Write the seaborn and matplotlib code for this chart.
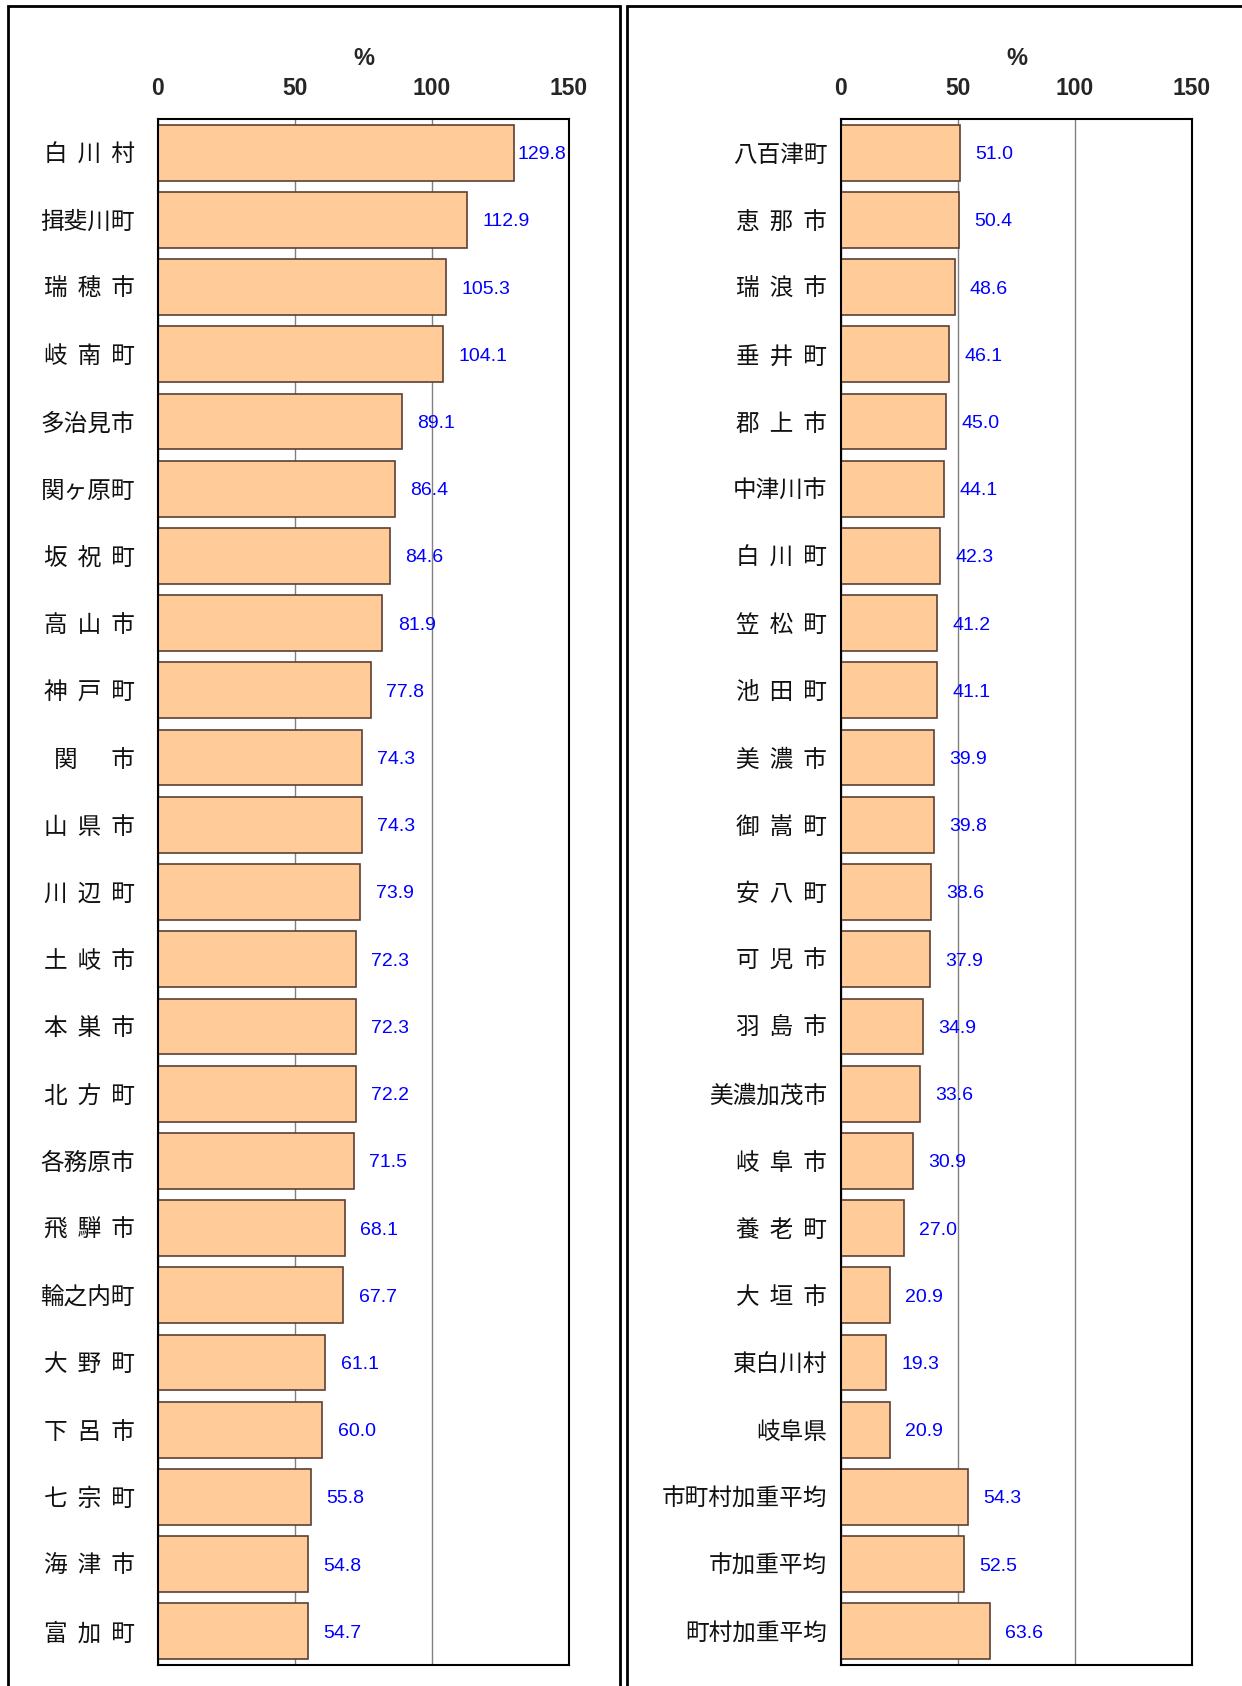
import matplotlib
matplotlib.use('Agg')
import matplotlib.pyplot as plt
import seaborn as sns
import pandas as pd
from matplotlib.patches import Rectangle

# left panel
left_names = ['白 川 村', '揖斐川町', '瑞 穂 市', '岐 南 町', '多治見市', '関ヶ原町',
              '坂 祝 町', '高 山 市', '神 戸 町', '関　 市', '山 県 市', '川 辺 町',
              '土 岐 市', '本 巣 市', '北 方 町', '各務原市', '飛 騨 市', '輪之内町',
              '大 野 町', '下 呂 市', '七 宗 町', '海 津 市', '富 加 町']
left_values = [129.8, 112.9, 105.3, 104.1, 89.1, 86.4, 84.6, 81.9, 77.8, 74.3, 74.3, 73.9,
               72.3, 72.3, 72.2, 71.5, 68.1, 67.7, 61.1, 60.0, 55.8, 54.8, 54.7]

# right panel
right_names = ['八百津町', '恵 那 市', '瑞 浪 市', '垂 井 町', '郡 上 市', '中津川市',
               '白 川 町', '笠 松 町', '池 田 町', '美 濃 市', '御 嵩 町', '安 八 町',
               '可 児 市', '羽 島 市', '美濃加茂市', '岐 阜 市', '養 老 町', '大 垣 市',
               '東白川村', '岐阜県', '市町村加重平均', '市加重平均', '町村加重平均']
right_values = [51.0, 50.4, 48.6, 46.1, 45.0, 44.1, 42.3, 41.2, 41.1, 39.9, 39.8, 38.6,
                37.9, 34.9, 33.6, 30.9, 27.0, 20.9, 19.3, 20.9, 54.3, 52.5, 63.6]

x_ticks = [0, 50, 100, 150]

BAR_COLOR = '#FFCC99'
EDGE_COLOR = '#5C4033'
LATIN = ['Liberation Sans', 'DejaVu Sans']

sns.set_style('white')
plt.rcParams['font.family'] = ['Noto Sans CJK JP', 'DejaVu Sans']

fig = plt.figure(figsize=(12.42, 16.86), dpi=100)

# panel frames
fig.patches.append(Rectangle((0.0064, -0.02), 0.4928, 1.0164, transform=fig.transFigure,
                             fill=False, edgecolor='black', linewidth=2))
fig.patches.append(Rectangle((0.5048, -0.02), 0.52, 1.0164, transform=fig.transFigure,
                             fill=False, edgecolor='black', linewidth=2))

ax_l = fig.add_axes([0.1272, 0.0125, 0.3309, 0.9169])
ax_r = fig.add_axes([0.6771, 0.0125, 0.2826, 0.9169])

value_labels = []


def spaced(name):
    # widen the single spaces a little (thin space comes from DejaVu Sans)
    return name.replace(' ', ' \u2009')


def draw_panel(ax, names, values, ypad):
    df = pd.DataFrame({'name': [spaced(n) for n in names], 'value': values})
    sns.barplot(data=df, x='value', y='name', orient='h', color=BAR_COLOR,
                edgecolor=EDGE_COLOR, linewidth=1.2, width=0.83, saturation=1, ax=ax)
    for i, v in enumerate(values):
        t = ax.annotate(f'{v:.1f}', xy=(v, i), xytext=(11, 0), textcoords='offset points',
                        ha='left', va='center_baseline', color='#0000FF', fontsize=14,
                        family=LATIN, annotation_clip=False)
        value_labels.append((ax, t))
    ax.set_xlim(0, 150)
    ax.set_ylim(len(names) - 0.5, -0.5)
    ax.set_xticks(x_ticks)
    ax.xaxis.tick_top()
    ax.xaxis.set_label_position('top')
    ax.set_xlabel('%', fontsize=17, fontweight='bold', family=LATIN, labelpad=8)
    ax.set_ylabel('')
    ax.tick_params(axis='x', length=0, pad=14)
    ax.tick_params(axis='y', length=0, pad=ypad, labelsize=17, labelcolor='#111111')
    for lab in ax.get_xticklabels():
        lab.set_fontfamily(LATIN)
        lab.set_fontweight('bold')
        lab.set_fontsize(16.5)
    ax.grid(axis='x', color='#808080', linewidth=1)
    ax.grid(axis='y', visible=False)
    ax.set_axisbelow(True)
    for sp in ax.spines.values():
        sp.set_visible(True)
        sp.set_color('black')
        sp.set_linewidth(1.5)


draw_panel(ax_l, left_names, left_values, 16.5)
draw_panel(ax_r, right_names, right_values, 10)

# keep value labels inside the plot area, like the original chart
fig.canvas.draw()
renderer = fig.canvas.get_renderer()
for ax, t in value_labels:
    bb = t.get_window_extent(renderer)
    right = ax.get_window_extent(renderer).x1 - 3
    if bb.x1 > right:
        shift = (bb.x1 - right) * 72 / fig.dpi
        t.set_position((11 - shift, 0))

fig.savefig('out.png', dpi=100, facecolor='white')
